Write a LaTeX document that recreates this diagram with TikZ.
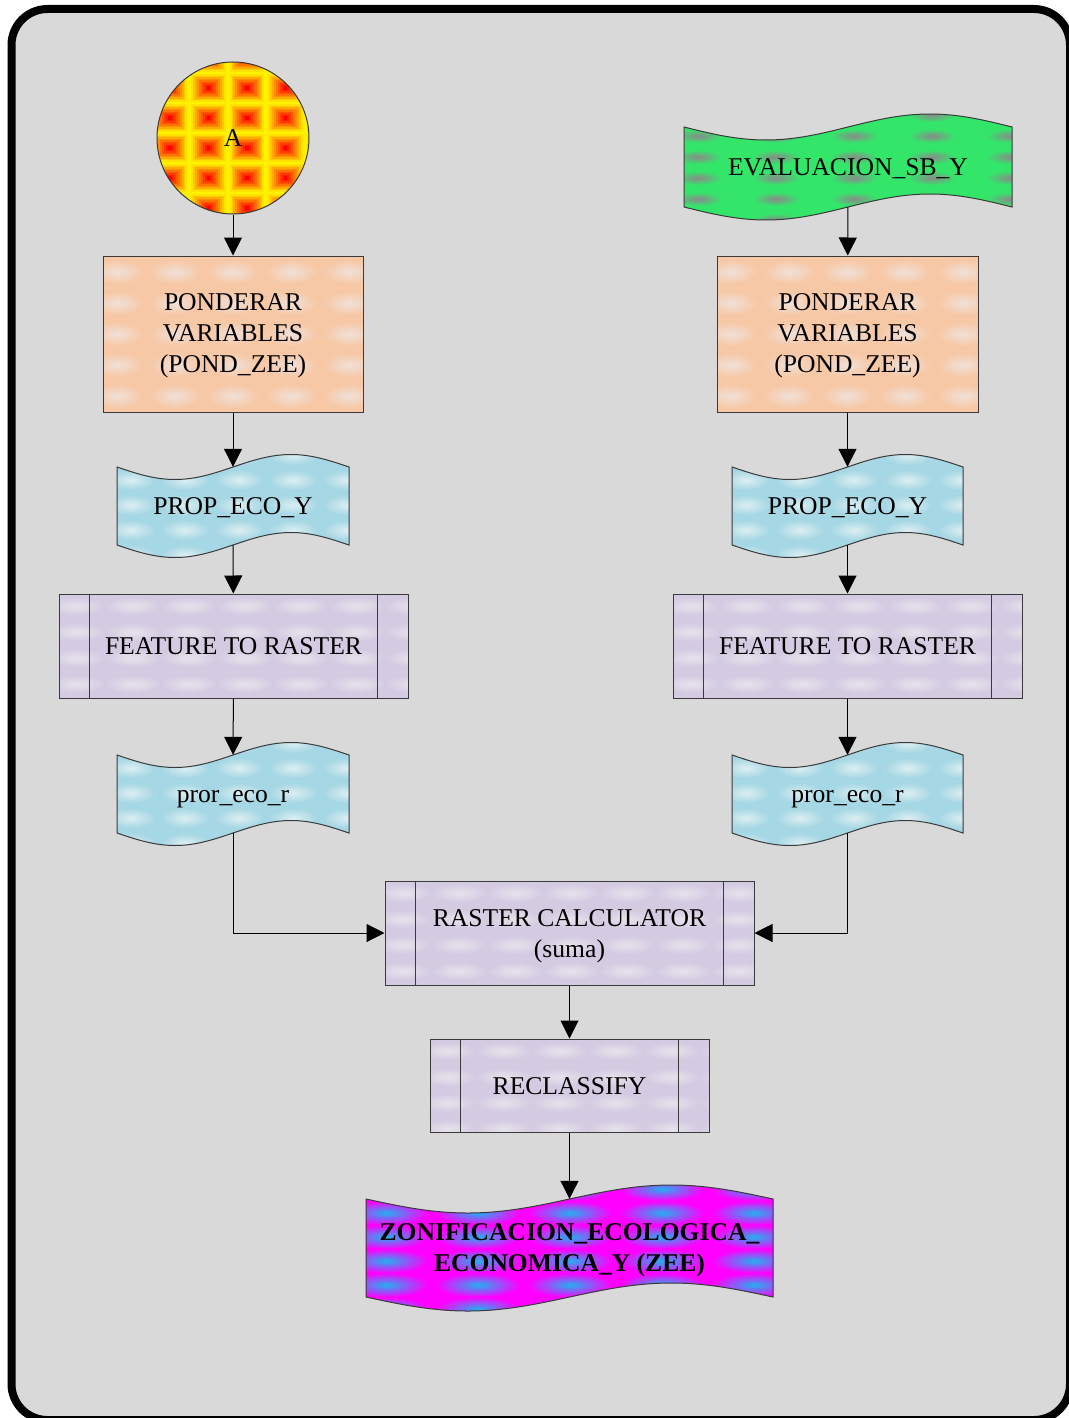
\documentclass[tikz,border=0pt]{standalone}
\usepackage{fontspec}
\setmainfont{Liberation Serif}
\usetikzlibrary{arrows.meta}

\definecolor{bggray}{HTML}{D9D9D9}
\definecolor{peachbase}{HTML}{F7C8A6}
\definecolor{peachspot}{HTML}{F0E0D8}
\definecolor{bluebase}{HTML}{A6D7E4}
\definecolor{bluespot}{HTML}{DCEEF2}
\definecolor{lavbase}{HTML}{D4CBE2}
\definecolor{lavspot}{HTML}{E6E3EB}
\definecolor{greenbase}{HTML}{33E66A}
\definecolor{greenspot}{HTML}{8A8A8A}
\definecolor{zeebase}{HTML}{FF00FF}
\definecolor{zeespot}{HTML}{20B0F0}
\definecolor{edge}{HTML}{3A3A3A}

\tikzset{
  wavepath/.style n args={5}{insert path={
    ({#1-#3/2},{#2-#4/2}) sin ({#1-#3/4},{#2-#4/2+#5}) cos ({#1},{#2-#4/2})
    sin ({#1+#3/4},{#2-#4/2-#5}) cos ({#1+#3/2},{#2-#4/2})
    -- ({#1+#3/2},{#2+#4/2}) sin ({#1+#3/4},{#2+#4/2-#5}) cos ({#1},{#2+#4/2})
    sin ({#1-#3/4},{#2+#4/2+#5}) cos ({#1-#3/2},{#2+#4/2}) -- cycle}},
  shapeline/.style={draw=edge, line width=1pt},
  txt/.style={font=\fontsize{25.6pt}{31pt}\selectfont, align=center, inner sep=0pt, text=black},
  oneline/.style={text height=17pt, text depth=0pt},
  procbox/.style={txt, shapeline, rectangle},
  docbox/.style={txt, rectangle},
  arr/.style={draw=black, line width=1pt, -{Triangle[length=18pt,width=18pt]}},
}

% soft spots laid out on a regular grid
\newcommand\spotgrid[9]{%
  \foreach \i in {0,...,#5}{%
    \foreach \j in {0,...,#8}{%
      \shade[inner color=#1, outer color=#2] ({#3+\i*#4},{#6+\j*#7}) ellipse (#9);}}}

% textures: arguments are centre x, centre y, width, height
\newcommand\peachtex[4]{\spotgrid{peachspot}{peachbase}{#1-#3/2+14}{58}{4}{#2-#4/2+16}{31}{4}{26 and 12}}
\newcommand\bluetex[4]{\spotgrid{bluespot}{bluebase}{#1-#3/2+14}{54}{4}{#2-#4/2-12}{25}{5}{24 and 10}}
\newcommand\lavtex[4]{\spotgrid{lavspot}{lavbase}{#1-#3/2+18}{56}{6}{#2-#4/2+12}{26}{3}{28 and 9}}
\newcommand\greentex[4]{\spotgrid{greenspot}{greenbase}{#1-#3/2+14}{78}{4}{#2-#4/2-12}{21}{5}{24 and 7}}
\newcommand\zeetex[4]{\spotgrid{zeespot}{zeebase}{#1-#3/2+20}{92}{4}{#2-#4/2-10}{24}{5}{42 and 12}}

% filled rectangle background with texture
\newcommand\rectfill[6]{%
  \fill[#5] ({#1-#3/2},{#2-#4/2}) rectangle ({#1+#3/2},{#2+#4/2});
  \begin{scope}
    \clip ({#1-#3/2},{#2-#4/2}) rectangle ({#1+#3/2},{#2+#4/2});
    #6{#1}{#2}{#3}{#4}
  \end{scope}}

% wavy document shape with texture and outline
\newcommand\wave[7]{%
  \fill[#6, wavepath={#1}{#2}{#3}{#4}{#5}];
  \begin{scope}
    \clip[wavepath={#1}{#2}{#3}{#4}{#5}];
    #7{#1}{#2}{#3}{#4}
  \end{scope}
  \draw[shapeline, wavepath={#1}{#2}{#3}{#4}{#5}];}

\begin{document}
\begin{tikzpicture}[x=1pt, y=-1pt]
\useasboundingbox (0,0) rectangle (1068,1418);

% outer frame
\draw[line width=8pt, rounded corners=36pt, fill=bggray] (11.5,9) rectangle (1070,1420);

% ---- input circle A ----
\begin{scope}
  \clip (233,138) circle (76);
  \foreach \i in {0,...,4}{%
    \foreach \j in {0,...,5}{%
      \foreach \k in {0,...,9}{%
        \pgfmathtruncatemacro\pc{\k*100/9}
        \fill[red!\pc!yellow]
          ({170+38.5*\i-19.3*(1-\k/10)},{58+30*\j-15.1*(1-\k/10)})
          rectangle ({170+38.5*\i+19.3*(1-\k/10)},{58+30*\j+15.1*(1-\k/10)});
      }}}
\end{scope}
\node[txt, oneline, circle, shapeline, minimum size=152pt] (cA) at (233,138) {A};

% ---- input EVALUACION_SB_Y ----
\wave{848}{167}{328}{80}{13}{greenbase}{\greentex}
\node[docbox, oneline, minimum width=328pt, minimum height=80pt] (ev) at (848,167) {EVALUACION\_SB\_Y};

% ---- left branch ----
\rectfill{233}{334}{260}{156}{peachbase}{\peachtex}
\node[procbox, minimum width=260pt, minimum height=156pt] (pondL) at (233,334) {};
\node[txt] (pondLt) at (233,336) {PONDERAR\\VARIABLES\\(POND\_ZEE)};

\wave{233}{506}{232}{78}{12.5}{bluebase}{\bluetex}
\node[docbox, oneline, minimum width=232pt, minimum height=78pt] (propL) at (233,506) {PROP\_ECO\_Y};

\rectfill{233.5}{646}{349}{104}{lavbase}{\lavtex}
\node[procbox, oneline, minimum width=349pt, minimum height=104pt] (ftrL) at (233.5,646) {FEATURE TO RASTER};
\draw[shapeline] ([xshift=31pt]ftrL.north west) -- ([xshift=31pt]ftrL.south west);
\draw[shapeline] ([xshift=-31pt]ftrL.north east) -- ([xshift=-31pt]ftrL.south east);

\wave{233}{794}{232}{78}{12.5}{bluebase}{\bluetex}
\node[docbox, oneline, minimum width=232pt, minimum height=78pt] (prL) at (233,794) {pror\_eco\_r};

% ---- right branch ----
\rectfill{847.5}{334}{261}{156}{peachbase}{\peachtex}
\node[procbox, minimum width=261pt, minimum height=156pt] (pondR) at (847.5,334) {};
\node[txt] (pondRt) at (847.5,336) {PONDERAR\\VARIABLES\\(POND\_ZEE)};

\wave{847.5}{506}{231}{78}{12.5}{bluebase}{\bluetex}
\node[docbox, oneline, minimum width=231pt, minimum height=78pt] (propR) at (847.5,506) {PROP\_ECO\_Y};

\rectfill{847.5}{646}{349}{104}{lavbase}{\lavtex}
\node[procbox, oneline, minimum width=349pt, minimum height=104pt] (ftrR) at (847.5,646) {FEATURE TO RASTER};
\draw[shapeline] ([xshift=31pt]ftrR.north west) -- ([xshift=31pt]ftrR.south west);
\draw[shapeline] ([xshift=-31pt]ftrR.north east) -- ([xshift=-31pt]ftrR.south east);

\wave{847.5}{794}{231}{78}{12.5}{bluebase}{\bluetex}
\node[docbox, oneline, minimum width=231pt, minimum height=78pt] (prR) at (847.5,794) {pror\_eco\_r};

% ---- merge ----
\rectfill{569.5}{933}{369}{104}{lavbase}{\lavtex}
\node[procbox, minimum width=369pt, minimum height=104pt] (rc) at (569.5,933) {};
\node[txt] (rct) at (569.5,936) {RASTER CALCULATOR\\(suma)};
\draw[shapeline] ([xshift=31pt]rc.north west) -- ([xshift=31pt]rc.south west);
\draw[shapeline] ([xshift=-31pt]rc.north east) -- ([xshift=-31pt]rc.south east);

\rectfill{569.5}{1085.5}{279}{93}{lavbase}{\lavtex}
\node[procbox, oneline, minimum width=279pt, minimum height=93pt] (rcl) at (569.5,1085.5) {RECLASSIFY};
\draw[shapeline] ([xshift=31pt]rcl.north west) -- ([xshift=31pt]rcl.south west);
\draw[shapeline] ([xshift=-31pt]rcl.north east) -- ([xshift=-31pt]rcl.south east);

\wave{569.5}{1248}{407}{98}{14}{zeebase}{\zeetex}
\node[docbox, minimum width=407pt, minimum height=98pt] (zee) at (569.5,1248) {};
\node[txt, font=\fontsize{25.6pt}{31pt}\selectfont\bfseries] (zeet) at (569.5,1250) {ZONIFICACION\_ECOLOGICA\_\\ECONOMICA\_Y (ZEE)};

% ---- connectors ----
\draw[arr] (cA) -- (pondL);
\draw[arr] (pondL) -- (propL);
\draw[arr] (propL) -- (ftrL);
\draw[arr] (ftrL) -- (prL);
\draw[arr] (ev) -- (pondR);
\draw[arr] (pondR) -- (propR);
\draw[arr] (propR) -- (ftrR);
\draw[arr] (ftrR) -- (prR);
\draw[arr] (prL.south) |- (rc.west);
\draw[arr] (prR.south) |- (rc.east);
\draw[arr] (rc) -- (rcl);
\draw[arr] (rcl) -- (zee);
\end{tikzpicture}
\end{document}
